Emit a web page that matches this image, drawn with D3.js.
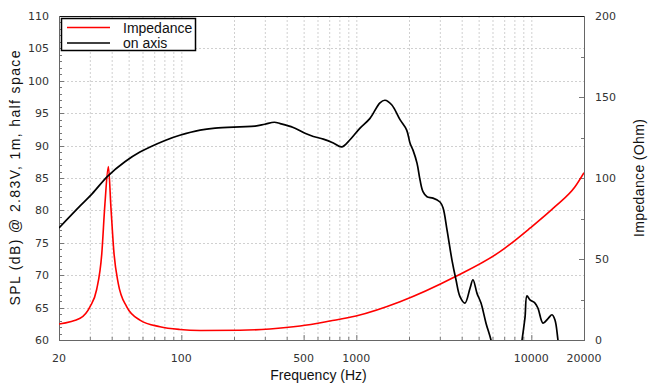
<!DOCTYPE html>
<html>
<head>
<meta charset="utf-8">
<script src="https://cdn.jsdelivr.net/npm/d3@7"></script>
<style>
  body { margin: 0; background: #fff; }
  svg { display: block; }
  .tick-label { font-family: "DejaVu Sans", sans-serif; font-size: 11px; fill: #333; }
  .axis-title { font-family: "Liberation Sans", sans-serif; font-size: 14px; fill: #111; }
  .legend-text { font-family: "Liberation Sans", sans-serif; font-size: 14px; fill: #111; }
</style>
</head>
<body>
<svg id="chart" width="650" height="391"></svg>
<script>
// on-axis SPL, dB (values below 60 fall off the bottom of the chart)
const splFreq = [20, 26.4, 31, 38, 47.6, 58, 80.7, 98, 128, 156, 216, 264, 300, 340, 367, 436, 509, 568, 648, 739, 824, 920,
  1050, 1197, 1365, 1458, 1592, 1777, 1940, 2026, 2108, 2222, 2312, 2404, 2535, 2742, 3008, 3129, 3298, 3522, 3711,
  3911, 4178, 4464, 4642, 4894, 5158, 5508, 5882, 6400, 8300, 8848, 9204, 9444, 9820, 10496, 10916, 11664, 12456,
  13128, 13652, 14200, 15000, 20000];
const splDb = [77.3, 80.7, 82.6, 85.3, 87.5, 89.0, 90.8, 91.6, 92.4, 92.7, 92.9, 93.0, 93.3, 93.6, 93.4, 92.8, 91.9, 91.4,
  91.0, 90.4, 89.8, 90.9, 92.7, 94.2, 96.6, 97.0, 96.3, 94.0, 92.4, 90.4, 89.3, 87.3, 84.7, 82.9, 82.1, 81.9, 81.3,
  80.4, 77.0, 72.3, 69.3, 66.7, 65.7, 68.0, 69.3, 67.2, 65.7, 62.6, 60.0, 55, 55, 60.0, 63.5, 66.8, 66.2, 65.7, 64.9,
  62.6, 63.3, 63.9, 63.1, 60.0, 55, 55];

// impedance, Ohm
const impFreq = [20, 26.4, 30.1, 32.8, 35.1, 36.6, 38.3, 39.6, 41.2, 43.6, 48.7, 58, 75.5, 98, 128, 216, 321, 477,
  707, 996, 1777, 3664, 6623, 9820, 13652, 17770, 20000];
const impOhm = [9.9, 13.4, 20.6, 31, 53, 84, 107, 82, 54, 35, 20.6, 12.3, 8.2, 6.5, 5.9, 6.0, 6.8, 8.6,
  11.7, 14.8, 23.6, 39, 54.5, 69, 82.3, 94.6, 103.3];

const xTickLabels = [20, 100, 500, 1000, 10000, 20000];
const splTicks = [60, 65, 70, 75, 80, 85, 90, 95, 100, 105, 110];
const ohmTicks = [0, 50, 100, 150, 200];
const legendItems = [
  {label: 'Impedance', color: '#ff0000'},
  {label: 'on axis', color: '#000000'},
];

const pLeft = 59, pRight = 584, pTop = 16, pBottom = 340;

const svg = d3.select('#chart');
const x = d3.scaleLog().domain([20, 20000]).range([pLeft, pRight]);
const yL = d3.scaleLinear().domain([60, 110]).range([pBottom, pTop]);
const yR = d3.scaleLinear().domain([0, 200]).range([pBottom, pTop]);

// log minor positions 20..20000
const minorFreqs = [];
[10, 100, 1000, 10000].forEach((dec) => {
  for (let k = 1; k <= 9; k++) {
    const f = dec * k;
    if (f >= 20 && f <= 20000) minorFreqs.push(f);
  }
});
minorFreqs.push(20000);

// grid
const grid = svg.append('g').attr('stroke', '#d0d0d0').attr('stroke-dasharray', '2,2').attr('stroke-width', 1);
grid.selectAll('.vg').data(minorFreqs).join('line')
  .attr('x1', (d) => x(d) + 0.5).attr('x2', (d) => x(d) + 0.5)
  .attr('y1', pTop).attr('y2', pBottom);
grid.selectAll('.hg').data(splTicks).join('line')
  .attr('x1', pLeft).attr('x2', pRight)
  .attr('y1', (d) => Math.round(yL(d)) + 0.5).attr('y2', (d) => Math.round(yL(d)) + 0.5);

// tick marks inside the frame
const ticks = svg.append('g').attr('stroke', '#777').attr('stroke-width', 1);
ticks.selectAll('.lt').data(d3.range(60, 111, 1)).join('line')
  .attr('x1', pLeft).attr('x2', (d) => pLeft + (d % 5 === 0 ? 5 : 3))
  .attr('y1', (d) => Math.round(yL(d)) + 0.5).attr('y2', (d) => Math.round(yL(d)) + 0.5);
ticks.selectAll('.rt').data(d3.range(0, 201, 25)).join('line')
  .attr('x1', pRight).attr('x2', (d) => pRight - (d % 50 === 0 ? 5 : 3))
  .attr('y1', (d) => Math.round(yR(d)) + 0.5).attr('y2', (d) => Math.round(yR(d)) + 0.5);
ticks.selectAll('.bt').data(minorFreqs).join('line')
  .attr('x1', (d) => x(d) + 0.5).attr('x2', (d) => x(d) + 0.5)
  .attr('y1', pBottom).attr('y2', (d) => pBottom - (xTickLabels.includes(d) ? 5 : 3));

// frame
svg.append('line').attr('x1', pLeft).attr('x2', pRight).attr('y1', pTop + 0.5).attr('y2', pTop + 0.5)
  .attr('stroke', '#111').attr('stroke-width', 1.2);
svg.append('line').attr('x1', pLeft + 0.5).attr('x2', pLeft + 0.5).attr('y1', pTop).attr('y2', pBottom)
  .attr('stroke', '#666');
svg.append('line').attr('x1', pRight + 0.5).attr('x2', pRight + 0.5).attr('y1', pTop).attr('y2', pBottom)
  .attr('stroke', '#666');
svg.append('line').attr('x1', pLeft).attr('x2', pRight + 1).attr('y1', pBottom + 0.5).attr('y2', pBottom + 0.5)
  .attr('stroke', '#666');

// curves
svg.append('clipPath').attr('id', 'plot-clip')
  .append('rect').attr('x', pLeft).attr('y', pTop).attr('width', pRight - pLeft).attr('height', pBottom - pTop);

const splLine = d3.line().x((d) => x(d[0])).y((d) => yL(d[1])).curve(d3.curveCatmullRom.alpha(0.5));
const impLine = d3.line().x((d) => x(d[0])).y((d) => yR(d[1])).curve(d3.curveMonotoneX);

const curves = svg.append('g').attr('clip-path', 'url(#plot-clip)').attr('fill', 'none');
curves.append('path')
  .attr('d', impLine(d3.zip(impFreq, impOhm)))
  .attr('stroke', '#ff0000').attr('stroke-width', 1.6);
curves.append('path')
  .attr('d', splLine(d3.zip(splFreq, splDb)))
  .attr('stroke', '#000').attr('stroke-width', 1.7);

// tick labels
svg.append('g').selectAll('text').data(splTicks).join('text')
  .attr('class', 'tick-label').attr('x', 49).attr('y', (d) => yL(d)).attr('dy', '0.36em')
  .attr('text-anchor', 'end').text((d) => d);
svg.append('g').selectAll('text').data(ohmTicks).join('text')
  .attr('class', 'tick-label').attr('x', 595).attr('y', (d) => yR(d)).attr('dy', '0.36em')
  .attr('text-anchor', 'start').text((d) => d);
svg.append('g').selectAll('text').data(xTickLabels).join('text')
  .attr('class', 'tick-label').attr('x', (d) => x(d)).attr('y', 362)
  .attr('text-anchor', 'middle').text((d) => d);

// axis titles
svg.append('text').attr('class', 'axis-title')
  .attr('x', (pLeft + pRight) / 2 - 3).attr('y', 380).attr('text-anchor', 'middle')
  .text('Frequency (Hz)');
svg.append('text').attr('class', 'axis-title')
  .attr('transform', `translate(20, ${(pTop + pBottom) / 2}) rotate(-90)`)
  .attr('text-anchor', 'middle').attr('textLength', 255).attr('lengthAdjust', 'spacing')
  .text('SPL (dB) @ 2.83V, 1m, half space');
svg.append('text').attr('class', 'axis-title')
  .attr('transform', `translate(644, ${(pTop + pBottom) / 2}) rotate(-90)`)
  .attr('text-anchor', 'middle').attr('textLength', 118).attr('lengthAdjust', 'spacing')
  .text('Impedance (Ohm)');

// legend
const legend = svg.append('g');
legend.append('rect').attr('x', 61.5).attr('y', 18.5).attr('width', 134).attr('height', 32)
  .attr('fill', '#fff').attr('stroke', '#000').attr('stroke-width', 1.5);
const li = legend.selectAll('.li').data(legendItems).join('g')
  .attr('transform', (d, i) => `translate(0, ${27.5 + i * 15.5})`);
li.append('line').attr('x1', 67).attr('x2', 110).attr('stroke', (d) => d.color).attr('stroke-width', 1.6);
li.append('text').attr('class', 'legend-text').attr('x', 123).attr('y', 5).text((d) => d.label);
</script>
</body>
</html>
